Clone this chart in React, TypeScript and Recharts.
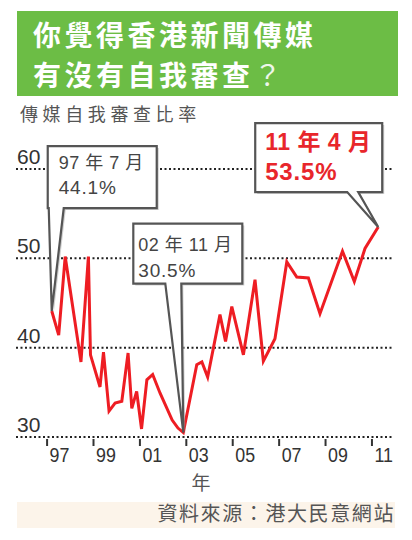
import React from 'react';
import { LineChart, Line, XAxis, YAxis, CartesianGrid, ReferenceDot } from 'recharts';

// survey dates (fractional years) and share saying the media self-censor (%)
const surveyTimes = [
  1997.2, 1997.5, 1997.78, 1998.46, 1998.78, 1998.87, 1999.28, 1999.43, 1999.67, 1999.93,
  2000.22, 2000.49, 2000.65, 2000.86, 2001.07, 2001.3, 2001.55, 2001.87, 2002.39, 2002.64,
  2002.87, 2003.45, 2003.67, 2003.92, 2004.45, 2004.69, 2004.96, 2005.46, 2005.96, 2006.32,
  2006.82, 2007.33, 2007.76, 2008.26, 2008.76, 2009.73, 2010.24, 2010.7, 2011.27,
];
const selfCensorshipRate = [
  44.1, 41.4, 50.2, 38.4, 50.2, 39.2, 35.6, 39.5, 32.9, 33.8,
  34.0, 39.4, 33.2, 35.1, 30.9, 36.4, 37.0, 34.9, 31.9, 31.0,
  30.5, 38.1, 38.4, 36.7, 43.7, 40.7, 44.6, 39.2, 47.6, 38.5,
  41.0, 49.6, 47.9, 47.8, 43.8, 50.8, 47.4, 51.1, 53.5,
];

const yTicks = [30, 40, 50, 60];
const yearTicks = [1997, 1999, 2001, 2003, 2005, 2007, 2009, 2011];
const yearLabels = ['97', '99', '01', '03', '05', '07', '09', '11'];

// highlighted surveys
const calloutIndex = [0, 20, 38];
const calloutDates = ['97 年 7 月', '02 年 11 月', '11 年 4 月'];
const calloutValues = ['44.1%', '30.5%', '53.5%'];

const data = surveyTimes.map((t, i) => ({ t, rate: selfCensorshipRate[i] }));

const FONT = "'Liberation Sans', 'Noto Sans CJK TC', sans-serif";
const CJK = "'Noto Sans CJK TC', sans-serif";

// box geometry relative to the highlighted point
const calloutLayout = [
  { left: -4, right: 105, top: -165, bottom: -103, p0: -3, p1: 12, tx: 7, b1: 23, b2: 48, size: 18, bold: false, color: '#444' },
  { left: -50, right: 59, top: -209, bottom: -149, p0: -18, p1: -2, tx: -45, b1: 27, b2: 53, size: 18, bold: false, color: '#444' },
  { left: -123, right: 4, top: -104, bottom: -35, p0: -31, p1: -20, tx: -113, b1: 27, b2: 57, size: 23, bold: true, color: '#e8262b' },
];

const makeCallout = (k: number) => (props: any) => {
  const { cx, cy } = props;
  const b = calloutLayout[k];
  const L = cx + b.left, R = cx + b.right, T = cy + b.top, B = cy + b.bottom;
  const d = `M${L},${T} H${R} V${B} H${cx + b.p1} L${cx},${cy} L${cx + b.p0},${B} H${L} Z`;
  return (
    <g>
      <path d={d} transform="translate(2,2)" fill="#aaa" opacity={0.55} />
      <path d={d} fill="#fff" stroke="#555" strokeWidth={2.2} strokeLinejoin="miter" />
      <text x={cx + b.tx} y={T + b.b1} fontFamily={FONT} fontSize={b.size} fontWeight={b.bold ? 700 : 400} fill={b.color} letterSpacing={0.5}>
        {calloutDates[k]}
      </text>
      <text x={cx + b.tx} y={T + b.b2} fontFamily={FONT} fontSize={b.size + 1} fontWeight={b.bold ? 700 : 400} fill={b.color} letterSpacing={0.8}>
        {calloutValues[k]}
      </text>
    </g>
  );
};

const RateTick = (props: any) => {
  const { y, payload } = props;
  return (
    <text x={17} y={y - 5} textAnchor="start" fontFamily={FONT} fontSize={21} fill="#333">
      {payload.value}
    </text>
  );
};

const YearTick = (props: any) => {
  const { x, y, payload } = props;
  const label = yearLabels[yearTicks.indexOf(payload.value)];
  return (
    <g>
      <line x1={x} x2={x} y1={y + 2} y2={y + 9} stroke="#333" strokeWidth={2} />
      <text transform={`translate(${x + 2.5} ${y + 25}) scale(0.85 1)`} fontFamily={FONT} fontSize={21} fill="#333">
        {label}
      </text>
    </g>
  );
};

export default function App() {
  return (
    <div style={{ position: 'absolute', left: 0, top: 0, width: 412, height: 540, background: '#fff', overflow: 'hidden' }}>
      <svg width={412} height={540} style={{ position: 'absolute', left: 0, top: 0 }}>
        <rect x={17} y={11} width={381} height={85} fill="#6cbd45" />
        <text x={33} y={46} fill="#fff" fontFamily={CJK} fontSize={28} fontWeight={700} letterSpacing={3.5}>
          你覺得香港新聞傳媒
        </text>
        <text x={33} y={86} fill="#fff" fontFamily={CJK} fontSize={28} fontWeight={700} letterSpacing={3.5}>
          有沒有自我審查<tspan fontWeight={400} fill="#eef6ea">？</tspan>
        </text>
        <text x={20} y={121} fill="#555" fontFamily={CJK} fontSize={18} letterSpacing={4.6}>
          傳媒自我審查比率
        </text>
        <text x={201} y={490} textAnchor="middle" fill="#555" fontFamily={CJK} fontSize={19}>
          年
        </text>
        <rect x={17} y={502} width={378} height={26} fill="#fcf4ea" />
        <text x={395} y={521} textAnchor="end" fill="#555" fontFamily={CJK} fontSize={20} letterSpacing={1.6}>
          資料來源：港大民意網站
        </text>
      </svg>
      <div style={{ position: 'absolute', left: 0, top: 0 }}>
        <LineChart width={412} height={540} data={data} margin={{ top: 169, right: 18, bottom: 73, left: 0 }}>
          <CartesianGrid vertical={false} stroke="#222" strokeWidth={2} strokeDasharray="2 2.5" />
          <XAxis
            dataKey="t"
            type="number"
            domain={[1995.66, 2011.95]}
            ticks={yearTicks}
            height={30}
            axisLine={false}
            tickLine={false}
            tickSize={0}
            tickMargin={0}
            tick={<YearTick />}
            interval={0}
          />
          <YAxis
            type="number"
            domain={[30, 60]}
            ticks={yTicks}
            width={16}
            axisLine={false}
            tickLine={false}
            tickSize={0}
            tickMargin={0}
            tick={<RateTick />}
            interval={0}
          />
          <Line
            type="linear"
            dataKey="rate"
            stroke="#ee1d23"
            strokeWidth={3}
            dot={false}
            isAnimationActive={false}
          />
          {calloutIndex.map((idx, k) => (
            <ReferenceDot
              key={k}
              x={surveyTimes[idx]}
              y={selfCensorshipRate[idx]}
              ifOverflow="visible"
              shape={makeCallout(k)}
            />
          ))}
        </LineChart>
      </div>
    </div>
  );
}
